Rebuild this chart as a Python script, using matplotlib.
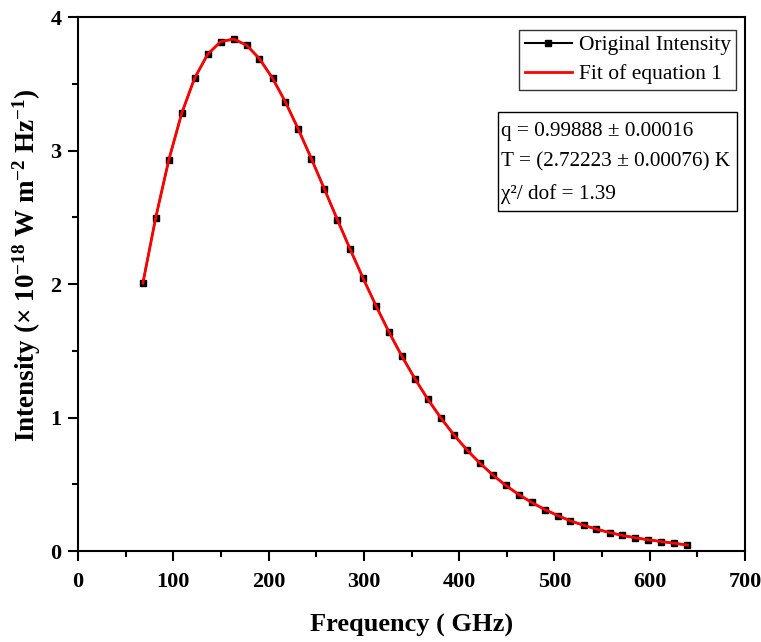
import matplotlib
matplotlib.use('Agg')
import matplotlib.pyplot as plt
from matplotlib.patches import Rectangle
from matplotlib.ticker import MultipleLocator

plt.rcParams['font.family'] = ['Liberation Serif', 'DejaVu Serif']
plt.rcParams['mathtext.fontset'] = 'custom'
plt.rcParams['mathtext.rm'] = 'Liberation Serif'
plt.rcParams['mathtext.it'] = 'Liberation Serif:italic'
plt.rcParams['mathtext.bf'] = 'Liberation Serif:bold'
plt.rcParams['mathtext.default'] = 'regular'

# frequency (GHz) and measured intensity (x 1e-18 W m^-2 Hz^-1)
frequency = [68.1, 81.5, 95.3, 108.8, 122.3, 136.1, 149.6, 163.4, 176.9, 190.4,
             204.2, 217.7, 231.1, 244.9, 258.4, 272.2, 285.7, 299.2, 313.0, 326.5,
             340.0, 353.8, 367.2, 381.0, 394.5, 408.0, 421.8, 435.3, 448.8, 462.6,
             476.1, 489.9, 503.4, 516.8, 530.6, 544.1, 557.9, 571.4, 584.9, 598.7,
             612.2, 625.7, 639.5]
intensity = [2.007, 2.495, 2.930, 3.278, 3.541, 3.721, 3.815, 3.835, 3.789, 3.688,
             3.541, 3.363, 3.161, 2.939, 2.714, 2.482, 2.259, 2.043, 1.833, 1.638,
             1.458, 1.288, 1.136, 0.995, 0.870, 0.759, 0.658, 0.570, 0.492, 0.423,
             0.364, 0.311, 0.266, 0.226, 0.193, 0.164, 0.138, 0.117, 0.099, 0.084,
             0.071, 0.058, 0.045]
# fitted curve values at the same frequencies
fit_intensity = intensity

fig = plt.figure(figsize=(7.61, 6.42), dpi=100)
ax = fig.add_axes([0.1025, 0.1417, 0.8765, 0.8318])

ax.plot(frequency, intensity, color='black', lw=1.5, marker='s', markersize=4,
        label='Original Intensity')
ax.plot(frequency, fit_intensity, color='red', lw=2, label='Fit of equation 1')

ax.set_xlim(0, 700)
ax.set_ylim(0, 4)
ax.xaxis.set_major_locator(MultipleLocator(100))
ax.xaxis.set_minor_locator(MultipleLocator(50))
ax.yaxis.set_major_locator(MultipleLocator(1))
ax.yaxis.set_minor_locator(MultipleLocator(0.5))
ax.tick_params(which='both', direction='out', width=1.5, top=False, right=False)
ax.tick_params(which='major', length=7)
ax.tick_params(which='minor', length=4)
ax.tick_params(axis='x', which='major', pad=8)
ax.tick_params(axis='y', which='major', pad=5)
for lab in ax.get_xticklabels() + ax.get_yticklabels():
    lab.set_fontsize(16)
    lab.set_fontweight('bold')
for sp in ax.spines.values():
    sp.set_linewidth(1.5)

ax.set_xlabel('Frequency ( GHz)', fontsize=19, fontweight='bold', labelpad=16)
ax.set_ylabel(r'Intensity (× 10$^{\mathbf{-18}}$ W m$^{\mathbf{-2}}$ Hz$^{\mathbf{-1}}$)',
              fontsize=19.5, fontweight='bold', labelpad=5)
ax.yaxis.label.set_y(0.535)

leg = ax.legend(loc='upper right', bbox_to_anchor=(0.9865, 0.9757), fontsize=15.5,
                frameon=True, fancybox=False, edgecolor='black', handlelength=2.2,
                handletextpad=0.3, borderpad=0.25, labelspacing=0.4, borderaxespad=0)
leg.get_frame().set_linewidth(1)

# fit results box
ax.add_patch(Rectangle((0.6297, 0.6367), 0.3583, 0.1854, transform=ax.transAxes,
                       facecolor='white', edgecolor='black', lw=1, zorder=4))
ax.text(0.634, 0.7266, 'q = 0.99888 ± 0.00016\nT = (2.72223 ± 0.00076) K\nχ²/ dof = 1.39',
        transform=ax.transAxes, fontsize=15.3, va='center', ha='left', linespacing=1.85,
        zorder=5)

fig.savefig('out.png', dpi=100)
